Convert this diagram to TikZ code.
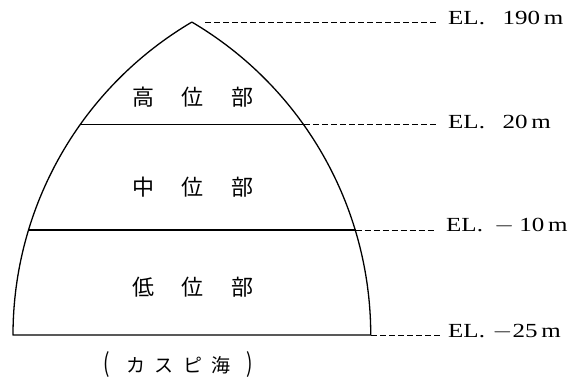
\documentclass[tikz,border=0pt]{standalone}
\usepackage{fontspec}
\usepackage{graphicx}
\newfontfamily\cjk{Noto Sans CJK JP}
\newfontfamily\elfont{Liberation Serif}
\begin{document}
\begin{tikzpicture}[x=1pt,y=1pt,
  outline/.style={line width=1.3pt, line join=round},
  sep/.style={line width=1.2pt},
  leader/.style={line width=0.8pt, dash pattern=on 6pt off 3pt},
  ellabel/.style={anchor=west, inner sep=0pt, font=\elfont\fontsize{20}{20}\selectfont},
  zone/.style={font=\cjk\fontsize{22}{22}\selectfont, inner sep=0pt},
  capt/.style={font=\cjk\fontsize{19}{19}\selectfont, inner sep=0pt},
]
\useasboundingbox (0,0) rectangle (578,383);
% key points of the arch
\coordinate (apex) at (192,361);
\coordinate (bl) at (13,48);
\coordinate (br) at (371,48);
\coordinate (l20) at (80.2,258.5);
\coordinate (r20) at (303.8,258.5);
\coordinate (l10) at (28.5,153);
\coordinate (r10) at (355.5,153);
% outline: two circular arcs (pointed arch) and the base
\draw[outline] (bl) arc[start angle=180, end angle=120.5, radius=363.2]
  arc[start angle=59.5, end angle=0, radius=363.2] -- cycle;
% dividing lines
\draw[sep] (l20) -- (r20);
\draw[sep] (l10) -- (r10);
% zone names
\node[zone] (hi) at (193,286) {\makebox[50pt]{高}\makebox[50pt]{位}\makebox[50pt]{部}};
\node[zone] (mid) at (193,196) {\makebox[50pt]{中}\makebox[50pt]{位}\makebox[50pt]{部}};
\node[zone] (lo) at (193,96) {\makebox[50pt]{低}\makebox[50pt]{位}\makebox[50pt]{部}};
% caption
\node[capt] (caspian) at (178.5,18) {\makebox[28.6pt]{\scalebox{1}[1.35]{(}}\makebox[28.6pt]{カ}\makebox[28.6pt]{ス}\makebox[28.6pt]{ピ}\makebox[28.6pt]{海}\makebox[28.6pt]{\scalebox{1}[1.35]{)}}};
% elevation labels
\node[ellabel] (e190) at (448,365) {\scalebox{1.25}[1]{EL.\hspace{14pt}190\hspace{3pt}m}};
\node[ellabel] (e20) at (448,261) {\scalebox{1.25}[1]{EL.\hspace{14pt}20\hspace{3pt}m}};
\node[ellabel] (e10) at (446,157) {\scalebox{1.25}[1]{EL.\hspace{9pt}$-$\hspace{4pt}10\hspace{3pt}m}};
\node[ellabel] (e25) at (448,51) {\scalebox{1.25}[1]{EL.\hspace{6pt}$-$25\hspace{3pt}m}};
% leaders
\draw[leader] ([xshift=13pt]apex) -- ([xshift=-10pt]e190.west |- apex);
\draw[leader] (r20) -- ([xshift=-10pt]e20.west |- r20);
\draw[leader] (r10) -- ([xshift=-10pt]e10.west |- r10);
\draw[leader] (br) -- ([xshift=-6pt]e25.west |- br);
\end{tikzpicture}
\end{document}
